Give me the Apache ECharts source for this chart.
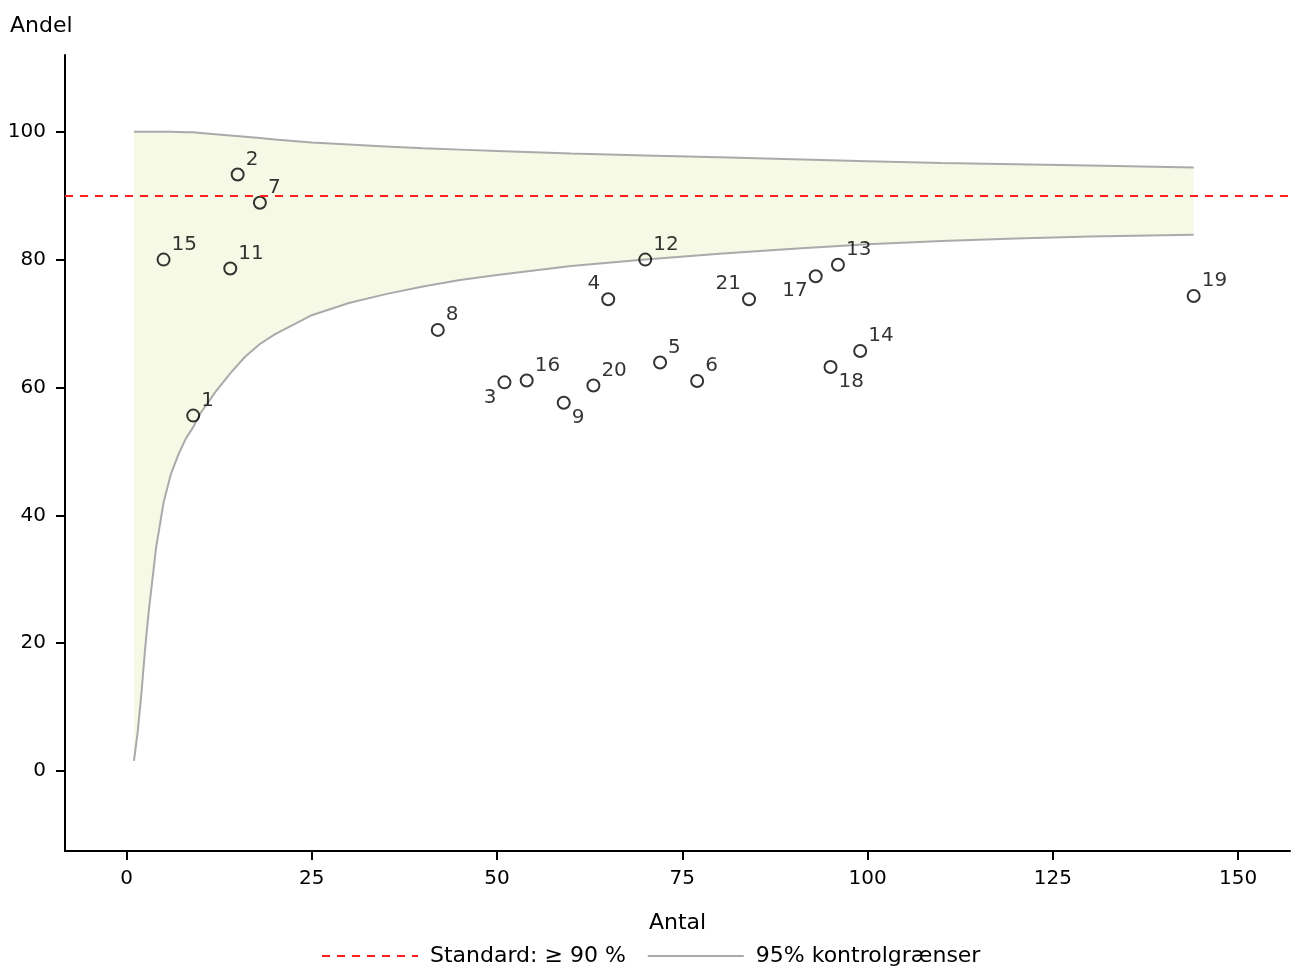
<!DOCTYPE html>
<html><head><meta charset="utf-8">
<script src="https://cdn.jsdelivr.net/npm/echarts@6/dist/echarts.min.js"></script>
<style>html,body{margin:0;padding:0;background:#fff}#c{width:1291px;height:967px}</style>
</head><body><div id="c"></div><script>
// Units (enhed) shown as point labels
const ids   = [1, 2, 3, 4, 5, 6, 7, 8, 9, 11, 12, 13, 14, 15, 16, 17, 18, 19, 20, 21];
// Antal (x) and Andel % (y) per unit
const antal = [9, 15, 51, 65, 72, 77, 18, 42, 59, 14, 70, 96, 99, 5, 54, 93, 95, 144, 63, 84];
const andel = [55.6, 93.3, 60.8, 73.8, 63.9, 61.0, 88.9, 69.0, 57.6, 78.6, 80.0, 79.2, 65.7, 80.0, 61.1, 77.4, 63.2, 74.3, 60.3, 73.8];

// 95% control limits
const limitN = [1, 1.5, 2, 2.5, 3, 4, 5, 6, 7, 8, 9, 10, 12, 14, 16, 18, 20, 25, 30, 35, 40, 45, 50, 60, 70, 80, 90, 100, 110, 120, 130, 144];
const upper  = [100, 100, 100, 100, 100, 100, 100, 100, 99.95, 99.9, 99.9, 99.8, 99.6, 99.4, 99.2, 99.0, 98.8, 98.3, 98.0, 97.7, 97.4, 97.2, 97.0, 96.6, 96.3, 96.0, 95.7, 95.4, 95.1, 94.9, 94.7, 94.4];
const lower  = [1.6, 6, 12, 19, 25, 35, 42, 46.5, 49.5, 52, 53.8, 56.0, 59.3, 62.2, 64.8, 66.8, 68.3, 71.3, 73.2, 74.6, 75.8, 76.8, 77.6, 79.0, 80.0, 80.9, 81.7, 82.4, 82.9, 83.3, 83.6, 83.9];

const standard = 90;
const xTicks = [0, 25, 50, 75, 100, 125, 150];
const yTicks = [0, 20, 40, 60, 80, 100];

// label placement (style): ur = upper right, ul = upper left, ll = lower left, lr = lower right
const labelPlace = {3: 'll', 4: 'ul', 9: 'lr', 17: 'll', 18: 'lr', 21: 'ul'};

const FONT = 'DejaVu Sans';
const TXT = '#000000';

function placeLabel(id) {
  const p = labelPlace[id] || 'ur';
  const up = p[0] === 'u';
  const right = p[1] === 'r';
  return {
    show: true,
    position: right ? 'right' : 'left',
    distance: 1,
    offset: [0, up ? -15 : 15],
    formatter: String(id),
    fontSize: 20,
    fontFamily: FONT,
    color: TXT
  };
}

const scatterData = ids.map((id, i) => ({ value: [antal[i], andel[i]], label: placeLabel(id) }));
const upperData = limitN.map((n, i) => [n, upper[i]]);
const lowerData = limitN.map((n, i) => [n, lower[i]]);

const chart = echarts.init(document.getElementById('c'), null, { renderer: 'canvas' });
chart.setOption({
  animation: false,
  backgroundColor: '#fff',
  textStyle: { fontFamily: FONT },
  title: {
    text: 'Andel', left: 10, top: 15, padding: 0,
    textStyle: { fontSize: 22, fontWeight: 'normal', color: TXT, fontFamily: FONT }
  },
  grid: { left: 65, top: 55, width: 1225, height: 796, containLabel: false },
  xAxis: {
    type: 'value', min: -8.3, max: 157,
    name: 'Antal', nameLocation: 'middle', nameGap: 61,
    nameTextStyle: { fontSize: 22, color: TXT, fontFamily: FONT },
    axisLine: { show: true, onZero: false, lineStyle: { color: '#000', width: 2 } },
    axisTick: { show: true, length: 9, customValues: xTicks, lineStyle: { color: '#000', width: 2 } },
    axisLabel: { customValues: xTicks, margin: 18, fontSize: 20, color: TXT, fontFamily: FONT },
    splitLine: { show: false }
  },
  yAxis: {
    type: 'value', min: -12.5, max: 112,
    axisLine: { show: true, onZero: false, lineStyle: { color: '#000', width: 2 } },
    axisTick: { show: true, length: 9, customValues: yTicks, lineStyle: { color: '#000', width: 2 } },
    axisLabel: { customValues: yTicks, margin: 19, fontSize: 20, color: TXT, fontFamily: FONT },
    splitLine: { show: false }
  },
  legend: {
    data: ['Standard: ≥ 90 %', '95% kontrolgrænser'],
    left: 316, top: 940,
    itemWidth: 96, itemHeight: 14, itemGap: 21,
    itemStyle: { opacity: 0 },
    textStyle: { fontSize: 22, color: TXT, fontFamily: FONT, padding: [0, 0, 0, 7] },
    selectedMode: false
  },
  series: [
    {
      type: 'custom', silent: true, z: 1,
      data: [[limitN[0], upper[0]]],
      renderItem: function (params, api) {
        const pts = [];
        for (let i = 0; i < limitN.length; i++) pts.push(api.coord([limitN[i], upper[i]]));
        for (let i = limitN.length - 1; i >= 0; i--) pts.push(api.coord([limitN[i], lower[i]]));
        return { type: 'polygon', shape: { points: pts }, style: { fill: '#f6f9e6' } };
      }
    },
    {
      name: '95% kontrolgrænser', type: 'line', z: 2, silent: true,
      data: upperData, symbol: 'none', smooth: false,
      lineStyle: { color: '#aaaaaa', width: 2 }, itemStyle: { color: '#aaaaaa' }
    },
    {
      name: '95% kontrolgrænser', type: 'line', z: 2, silent: true,
      data: lowerData, symbol: 'none', smooth: false,
      lineStyle: { color: '#aaaaaa', width: 2 }, itemStyle: { color: '#aaaaaa' }
    },
    {
      name: 'Standard: ≥ 90 %', type: 'line', z: 3, silent: true,
      data: [], symbol: 'none',
      lineStyle: { color: '#ff1f1f', width: 1.8, type: [8, 7] }, itemStyle: { color: '#ff1f1f' },
      markLine: {
        silent: true, symbol: 'none', label: { show: false },
        lineStyle: { color: '#ff1f1f', width: 1.8, type: [8, 7] },
        data: [{ yAxis: standard }]
      }
    },
    {
      name: 'Enheder', type: 'scatter', z: 4,
      symbol: 'circle', symbolSize: 12,
      itemStyle: { color: 'rgba(0,0,0,0)', borderColor: '#000', borderWidth: 2 },
      data: scatterData
    }
  ]
});
</script></body></html>
